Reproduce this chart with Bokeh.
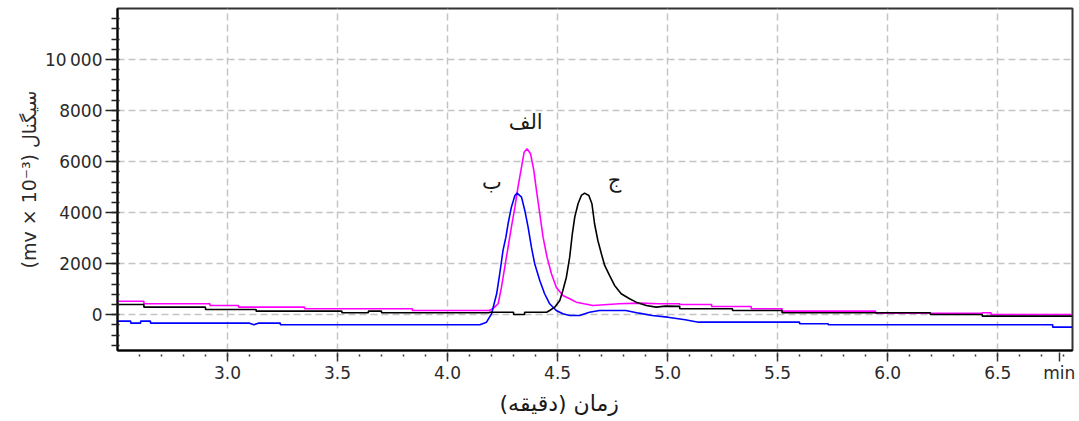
from bokeh.plotting import figure
from bokeh.models import FixedTicker, Range1d, ColumnDataSource, Title
from bokeh.core.properties import value
from bokeh.embed import file_html
from bokeh.resources import INLINE

# ---- data ----
# series الف (magenta)
alef_t = [2.50, 2.62, 2.62, 2.92, 2.92, 3.05, 3.05, 3.35, 3.35, 3.84, 3.84, 4.19,
          4.207, 4.23, 4.245, 4.26, 4.275, 4.29, 4.306, 4.32, 4.336, 4.348, 4.361,
          4.377, 4.392, 4.404, 4.419, 4.434, 4.452, 4.472, 4.494, 4.524, 4.555,
          4.585, 4.62, 4.66, 4.78, 4.87, 4.96, 5.055, 5.055, 5.20, 5.20, 5.38, 5.38,
          5.52, 5.52, 5.945, 5.945, 6.43, 6.43, 6.47, 6.47, 6.84]
alef_v = [530, 530, 430, 430, 365, 365, 300, 300, 235, 235, 165, 165,
          250, 431, 1081, 1865, 2649, 3433, 4216, 5000, 5784, 6371, 6505,
          6309, 5654, 4870, 3958, 3040, 2257, 1607, 1081, 756, 627,
          494, 431, 365, 431, 455, 431, 431, 404, 404, 325, 325, 235,
          235, 141, 141, 60, 60, 78, 78, 12, 12]

# series ب (blue)
be_t = [2.50, 2.56, 2.56, 2.605, 2.605, 2.65, 2.65, 3.10, 3.12, 3.14, 3.24, 3.24,
        4.147, 4.177, 4.20, 4.223, 4.237, 4.252, 4.265, 4.275, 4.29, 4.306, 4.316,
        4.336, 4.351, 4.366, 4.381, 4.396, 4.419, 4.441, 4.464, 4.494, 4.524,
        4.555, 4.60, 4.645, 4.69, 4.81, 4.87, 4.93, 5.00, 5.08, 5.14, 5.60, 5.60,
        5.73, 5.73, 6.75, 6.75, 6.84]
be_v = [-250, -250, -329, -329, -250, -250, -329, -329, -390, -329, -329, -392,
        -392, -290, 39, 823, 1607, 2520, 3040, 3566, 4216, 4675, 4765,
        4608, 4087, 3433, 2649, 1998, 1344, 823, 431, 168, 39,
        -27, -27, 102, 168, 168, 63, -27, -94, -196, -290, -290, -353,
        -353, -392, -392, -486, -486]

# series ج (black)
jim_t = [2.50, 2.62, 2.62, 2.90, 2.90, 3.13, 3.13, 3.52, 3.52, 3.64, 3.64, 3.70,
         3.70, 4.19, 4.19, 4.30, 4.30, 4.35, 4.35, 4.45, 4.464, 4.487, 4.51, 4.524,
         4.54, 4.555, 4.567, 4.578, 4.593, 4.608, 4.623, 4.642, 4.656, 4.668,
         4.683, 4.699, 4.714, 4.736, 4.759, 4.789, 4.827, 4.857, 4.903, 4.948,
         4.99, 5.055, 5.055, 5.295, 5.295, 5.52, 5.52, 6.194, 6.194, 6.43, 6.43, 6.84]
jim_v = [404, 404, 298, 298, 208, 208, 141, 141, 78, 78, 141, 141,
         78, 78, 100, 100, 12, 12, 100, 100, 168, 298, 560, 952,
         1473, 2257, 3174, 3825, 4350, 4675, 4765, 4675, 4350, 3566,
         2911, 2390, 1932, 1540, 1148, 823, 627, 494, 364, 298,
         340, 330, 235, 235, 168, 168, 78, 78, 12, 12, -55, -55]

# peak annotations
peak_names = ["الف", "ب", "ج"]
peak_t = [4.355, 4.201, 4.759]
peak_v = [7535, 5184, 5262]

# axes
grid_x = [3.0, 3.5, 4.0, 4.5, 5.0, 5.5, 6.0, 6.5]
x_major = [3.0, 3.5, 4.0, 4.5, 5.0, 5.5, 6.0, 6.5, 6.78]
x_labels = ["3.0", "3.5", "4.0", "4.5", "5.0", "5.5", "6.0", "6.5", "min"]
x_minor = [round(2.6 + 0.1 * i, 1) for i in range(43)]
y_major = [0, 2000, 4000, 6000, 8000, 10000]
y_labels = ["0", "2000", "4000", "6000", "8000", "10\u2009000"]
y_minor = [-1200 + 400 * i for i in range(33)]

x_title = "زمان (دقیقه)"
y_title = "(mv × 10⁻³) سیگنال"

p = figure(width=1079, height=421, output_backend="svg", toolbar_location=None,
           x_range=Range1d(2.5, 6.84), y_range=Range1d(-1400, 12000),
           min_border_left=117, min_border_right=7, min_border_top=8,
           min_border_bottom=71, background_fill_color="white",
           border_fill_color="white")

p.outline_line_color = "#333333"
p.outline_line_width = 2

# grid
p.xgrid.ticker = FixedTicker(ticks=grid_x)
for g in (p.xgrid, p.ygrid):
    g.grid_line_color = "#c4c4c4"
    g.grid_line_dash = "7 4"
    g.grid_line_width = 1.5

# x axis
xa = p.xaxis[0]
xa.ticker = FixedTicker(ticks=x_major, minor_ticks=x_minor)
xa.major_label_overrides = dict(zip(x_major, x_labels))
xa.axis_line_color = "black"
xa.axis_line_width = 2
xa.major_tick_in = -2
xa.major_tick_out = 11
xa.minor_tick_in = -4
xa.minor_tick_out = 6
xa.major_tick_line_color = "#333333"
xa.minor_tick_line_color = "#333333"
xa.major_tick_line_width = 1.5
xa.minor_tick_line_width = 1.5
xa.major_label_standoff = 1
xa.major_label_text_font = "DejaVu Sans"
xa.major_label_text_font_size = "17px"
xa.major_label_text_color = "#2a2a2a"

# y axis
ya = p.yaxis[0]
ya.ticker = FixedTicker(ticks=y_major, minor_ticks=y_minor)
ya.major_label_overrides = dict(zip(y_major, y_labels))
ya.axis_line_color = "black"
ya.axis_line_width = 2
ya.major_tick_in = 1
ya.major_tick_out = 12
ya.minor_tick_in = 2
ya.minor_tick_out = 6
ya.major_tick_line_color = "#222222"
ya.minor_tick_line_color = "#222222"
ya.major_tick_line_width = 1.5
ya.minor_tick_line_width = 1.5
ya.major_label_standoff = 3
ya.major_label_text_font = "DejaVu Sans"
ya.major_label_text_font_size = "17px"
ya.major_label_text_color = "#2a2a2a"
ya.axis_label = y_title
ya.axis_label_text_font = "DejaVu Sans"
ya.axis_label_text_font_size = "19px"
ya.axis_label_text_font_style = "normal"
ya.axis_label_text_color = "#2b2b2b"
ya.axis_label_standoff = 2

# curves
p.line(alef_t, alef_v, line_color="#ff00ff", line_width=1.6)
p.line(be_t, be_v, line_color="#0000ff", line_width=1.6)
p.line(jim_t, jim_v, line_color="#000000", line_width=1.6)

src = ColumnDataSource(dict(t=peak_t, v=peak_v, name=peak_names))
p.text(x="t", y="v", text="name", source=src, text_align="center",
       text_baseline="middle", text_font=value("DejaVu Sans"),
       text_font_size="21px", text_color="#1a1a1a")

# x title as a title below the axis
p.add_layout(Title(text=x_title, align="left", offset=382, standoff=7,
                   text_font="DejaVu Sans", text_font_size="22px",
                   text_font_style="normal", text_color="#1a1a1a"), "below")

open("out.html", "w").write(file_html(p, INLINE))
